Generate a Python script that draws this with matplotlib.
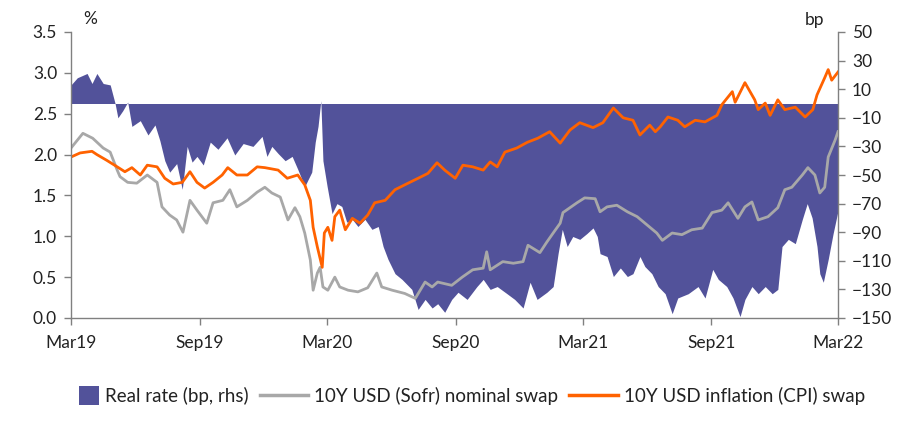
import matplotlib
matplotlib.use("Agg")
import matplotlib.pyplot as plt
from matplotlib.patches import Patch, Rectangle
from matplotlib.lines import Line2D
from matplotlib.legend_handler import HandlerPatch
import pandas as pd

plt.rcParams['font.family'] = ['Lato', 'DejaVu Sans']

# 10Y USD (Sofr) nominal swap, %
nom_dates = ["2019-03-01", "2019-03-18", "2019-04-01", "2019-04-16", "2019-04-26", "2019-05-06",
             "2019-05-10", "2019-05-21", "2019-06-03", "2019-06-18", "2019-07-02", "2019-07-09",
             "2019-07-20", "2019-07-30", "2019-08-08", "2019-08-18", "2019-08-28", "2019-09-11",
             "2019-09-20", "2019-10-04", "2019-10-14", "2019-10-24", "2019-11-08", "2019-11-22",
             "2019-12-03", "2019-12-13", "2019-12-25", "2020-01-05", "2020-01-15", "2020-01-22",
             "2020-01-29", "2020-02-06", "2020-02-10", "2020-02-16", "2020-02-20", "2020-02-24",
             "2020-03-02", "2020-03-12", "2020-03-19", "2020-03-31", "2020-04-14", "2020-04-28",
             "2020-05-11", "2020-05-18", "2020-06-02", "2020-06-20", "2020-07-05", "2020-07-19",
             "2020-07-29", "2020-08-06", "2020-08-26", "2020-09-10", "2020-09-25", "2020-10-10",
             "2020-10-15", "2020-10-20", "2020-11-07", "2020-11-22", "2020-12-06", "2020-12-13",
             "2020-12-30", "2021-01-09", "2021-01-18", "2021-01-28", "2021-02-01", "2021-02-11",
             "2021-02-21", "2021-03-04", "2021-03-19", "2021-03-26", "2021-04-05", "2021-04-19",
             "2021-05-04", "2021-05-18", "2021-06-01", "2021-06-15", "2021-06-23", "2021-07-07",
             "2021-07-21", "2021-08-04", "2021-08-19", "2021-09-02", "2021-09-16", "2021-09-25",
             "2021-10-09", "2021-10-19", "2021-10-29", "2021-11-07", "2021-11-21", "2021-12-05",
             "2021-12-15", "2021-12-25", "2022-01-09", "2022-01-17", "2022-01-27", "2022-02-03",
             "2022-02-10", "2022-02-15", "2022-02-25", "2022-03-01"]
nom_vals = [2.08, 2.26, 2.20, 2.08, 2.03, 1.81,
            1.73, 1.66, 1.65, 1.75, 1.66, 1.36,
            1.26, 1.20, 1.05, 1.44, 1.32, 1.16,
            1.41, 1.44, 1.57, 1.36, 1.44, 1.54,
            1.60, 1.53, 1.48, 1.20, 1.35, 1.24,
            1.04, 0.71, 0.34, 0.55, 0.62, 0.38,
            0.34, 0.50, 0.38, 0.34, 0.32, 0.37,
            0.55, 0.38, 0.34, 0.30, 0.24, 0.44,
            0.38, 0.44, 0.40, 0.50, 0.59, 0.61,
            0.81, 0.59, 0.69, 0.67, 0.69, 0.89,
            0.80, 0.93, 1.04, 1.16, 1.29, 1.35,
            1.41, 1.47, 1.46, 1.30, 1.36, 1.38,
            1.30, 1.24, 1.14, 1.04, 0.95, 1.04,
            1.02, 1.08, 1.10, 1.29, 1.32, 1.41,
            1.22, 1.36, 1.42, 1.20, 1.24, 1.35,
            1.57, 1.60, 1.75, 1.84, 1.75, 1.53,
            1.60, 1.97, 2.18, 2.28]

# 10Y USD inflation (CPI) swap, %
inf_dates = ["2019-03-01", "2019-03-14", "2019-03-31", "2019-04-07", "2019-04-21", "2019-05-06",
             "2019-05-17", "2019-05-27", "2019-06-08", "2019-06-18", "2019-07-02", "2019-07-13",
             "2019-07-25", "2019-08-07", "2019-08-18", "2019-08-28", "2019-09-08", "2019-09-20",
             "2019-10-03", "2019-10-11", "2019-10-24", "2019-11-08", "2019-11-22", "2019-12-03",
             "2019-12-22", "2020-01-04", "2020-01-19", "2020-01-29", "2020-02-06", "2020-02-10",
             "2020-02-16", "2020-02-23", "2020-02-26", "2020-03-02", "2020-03-08", "2020-03-12",
             "2020-03-19", "2020-03-27", "2020-04-06", "2020-04-17", "2020-04-28", "2020-05-08",
             "2020-05-23", "2020-06-06", "2020-06-20", "2020-07-09", "2020-07-23", "2020-08-05",
             "2020-08-16", "2020-08-31", "2020-09-11", "2020-09-25", "2020-10-10", "2020-10-20",
             "2020-10-30", "2020-11-10", "2020-11-27", "2020-12-12", "2020-12-27", "2021-01-13",
             "2021-01-28", "2021-02-11", "2021-02-25", "2021-03-16", "2021-03-30", "2021-04-14",
             "2021-04-28", "2021-05-12", "2021-05-22", "2021-06-05", "2021-06-13", "2021-06-20",
             "2021-07-01", "2021-07-15", "2021-07-25", "2021-08-09", "2021-08-23", "2021-09-09",
             "2021-09-16", "2021-10-01", "2021-10-05", "2021-10-19", "2021-11-02", "2021-11-07",
             "2021-11-17", "2021-11-24", "2021-12-05", "2021-12-15", "2021-12-30", "2022-01-13",
             "2022-01-24", "2022-01-30", "2022-02-10", "2022-02-15", "2022-02-20", "2022-03-01"]
inf_vals = [1.97, 2.02, 2.04, 2.00, 1.93, 1.85,
            1.79, 1.84, 1.75, 1.87, 1.85, 1.71,
            1.64, 1.66, 1.79, 1.66, 1.59, 1.66,
            1.75, 1.84, 1.75, 1.75, 1.85, 1.84,
            1.81, 1.71, 1.75, 1.63, 1.44, 1.11,
            0.87, 0.62, 1.04, 1.11, 0.95, 1.24,
            1.32, 1.08, 1.22, 1.16, 1.26, 1.41,
            1.44, 1.57, 1.63, 1.71, 1.77, 1.90,
            1.81, 1.71, 1.87, 1.85, 1.81, 1.91,
            1.85, 2.03, 2.08, 2.15, 2.20, 2.28,
            2.14, 2.30, 2.39, 2.33, 2.39, 2.57,
            2.45, 2.42, 2.24, 2.36, 2.28, 2.34,
            2.46, 2.42, 2.34, 2.42, 2.40, 2.48,
            2.61, 2.77, 2.64, 2.88, 2.67, 2.55,
            2.63, 2.48, 2.67, 2.55, 2.58, 2.46,
            2.55, 2.73, 2.94, 3.04, 2.91, 3.01]

# Real rate, bp (rhs)
real_dates = ["2019-03-01", "2019-03-10", "2019-03-24", "2019-03-31", "2019-04-07", "2019-04-16",
              "2019-04-26", "2019-05-03", "2019-05-07", "2019-05-14", "2019-05-21", "2019-05-27",
              "2019-06-08", "2019-06-19", "2019-06-29", "2019-07-06", "2019-07-13", "2019-07-20",
              "2019-07-30", "2019-08-07", "2019-08-14", "2019-08-21", "2019-08-28", "2019-09-06",
              "2019-09-16", "2019-09-27", "2019-10-10", "2019-10-21", "2019-11-02", "2019-11-16",
              "2019-11-29", "2019-12-06", "2019-12-13", "2019-12-22", "2020-01-01", "2020-01-11",
              "2020-01-19", "2020-01-29", "2020-02-08", "2020-02-13", "2020-02-17", "2020-02-21",
              "2020-02-24", "2020-03-01", "2020-03-08", "2020-03-15", "2020-03-22", "2020-03-29",
              "2020-04-06", "2020-04-14", "2020-04-24", "2020-05-04", "2020-05-13", "2020-05-20",
              "2020-05-27", "2020-06-06", "2020-06-16", "2020-06-30", "2020-07-09", "2020-07-19",
              "2020-07-29", "2020-08-06", "2020-08-16", "2020-08-26", "2020-09-04", "2020-09-17",
              "2020-10-01", "2020-10-10", "2020-10-20", "2020-10-30", "2020-11-13", "2020-11-24",
              "2020-12-06", "2020-12-16", "2020-12-26", "2021-01-09", "2021-01-18", "2021-01-25",
              "2021-01-31", "2021-02-07", "2021-02-15", "2021-02-25", "2021-03-07", "2021-03-16",
              "2021-03-22", "2021-03-26", "2021-04-05", "2021-04-14", "2021-04-24", "2021-05-04",
              "2021-05-12", "2021-05-22", "2021-05-29", "2021-06-08", "2021-06-17", "2021-06-27",
              "2021-07-07", "2021-07-15", "2021-07-30", "2021-08-13", "2021-08-23", "2021-09-03",
              "2021-09-11", "2021-09-23", "2021-10-02", "2021-10-12", "2021-10-19", "2021-10-29",
              "2021-11-07", "2021-11-17", "2021-11-27", "2021-12-05", "2021-12-11", "2021-12-20",
              "2021-12-30", "2022-01-09", "2022-01-16", "2022-01-23", "2022-01-30", "2022-02-03",
              "2022-02-08", "2022-02-15", "2022-02-22", "2022-03-01"]
real_vals = [13, 18, 21, 14, 21, 14,
             13, 0, -10, -5, 1, -16,
             -12, -22, -15, -26, -40, -48,
             -42, -60, -30, -41, -37, -43,
             -27, -32, -24, -36, -28, -30,
             -23, -37, -30, -35, -40, -37,
             -46, -58, -48, -27, -16, 2,
             -40, -58, -77, -70, -72, -83,
             -81, -86, -81, -88, -86, -100,
             -109, -119, -123, -130, -144, -137,
             -143, -140, -146, -137, -132, -137,
             -128, -123, -130, -128, -133, -137,
             -143, -125, -137, -132, -128, -105,
             -88, -100, -93, -95, -91, -87,
             -93, -105, -107, -121, -115, -121,
             -119, -107, -114, -119, -128, -133,
             -147, -136, -133, -128, -136, -116,
             -123, -128, -136, -149, -137, -128,
             -133, -128, -133, -130, -100, -95,
             -98, -81, -70, -80, -100, -119,
             -125, -109, -91, -75]

tick_dates = ["2019-03-01", "2019-09-01", "2020-03-01", "2020-09-01", "2021-03-01", "2021-09-01", "2022-03-01"]
tick_labels = ["Mar19", "Sep19", "Mar20", "Sep20", "Mar21", "Sep21", "Mar22"]

purple = "#52529a"
orange = "#ff6200"
grey = "#a8a8a8"
axis_col = "#808080"
text_col = "#222222"


class SquareHandler(HandlerPatch):
    # small square right-aligned in the handle box
    def create_artists(self, legend, orig_handle, xdescent, ydescent, width, height, fontsize, trans):
        s = height * 1.5
        p = Rectangle((width - s - xdescent, -ydescent + (height - s) / 2), s, s,
                      facecolor=orig_handle.get_facecolor(), edgecolor='none', transform=trans)
        return [p]


fig = plt.figure(figsize=(9.06, 4.30), dpi=100)
ax = fig.add_axes([71/906, 1-318/430, (838-71)/906, (318-32)/430])
ax2 = ax.twinx()

rd = pd.to_datetime(real_dates)
ax2.fill_between(rd, 0, real_vals, color=purple, linewidth=0)
ax2.set_ylim(-150, 50)
ax2.set_yticks(range(-150, 51, 20))

ax.plot(pd.to_datetime(nom_dates), nom_vals, color=grey, lw=2.0)
ax.plot(pd.to_datetime(inf_dates), inf_vals, color=orange, lw=2.0)
ax.set_ylim(0, 3.5)
ax.set_yticks([i * 0.5 for i in range(8)])
ax.yaxis.set_major_formatter(matplotlib.ticker.FormatStrFormatter('%.1f'))
ax.set_zorder(ax2.get_zorder() + 1)
ax.patch.set_visible(False)

ax.set_xlim(pd.Timestamp("2019-03-01"), pd.Timestamp("2022-03-01"))
ax.set_xticks(pd.to_datetime(tick_dates))
ax.set_xticklabels(tick_labels)

for a in (ax, ax2):
    a.spines['top'].set_visible(False)
    for s in ('left', 'right', 'bottom'):
        a.spines[s].set_color(axis_col)
        a.spines[s].set_linewidth(1.0)
    a.tick_params(colors=axis_col, labelcolor=text_col, labelsize=12.5, length=5, width=1)
ax.spines['right'].set_visible(False)
ax2.spines['left'].set_visible(False)
ax2.spines['bottom'].set_visible(False)
ax.tick_params(axis='x', pad=7)
ax.tick_params(axis='y', pad=5)
ax2.tick_params(axis='y', pad=5)

fig.text(90/906, 1-19/430, "%", fontsize=12.5, color=text_col, ha='center', va='center')
fig.text(815/906, 1-20/430, "bp", fontsize=12.5, color=text_col, ha='center', va='center')

handles = [Patch(facecolor=purple, edgecolor='none'),
           Line2D([0], [0], color=grey, lw=2.5),
           Line2D([0], [0], color=orange, lw=2.5)]
labels = ["Real rate (bp, rhs)", "10Y USD (Sofr) nominal swap", "10Y USD inflation (CPI) swap"]
fig.legend(handles, labels, loc='center', bbox_to_anchor=(0.505, 1-396/430), ncol=3,
           frameon=False, fontsize=13.5, handlelength=2.6, handletextpad=0.3, columnspacing=0.6,
           labelcolor=text_col, handler_map={Patch: SquareHandler()})

fig.savefig("out.png", dpi=100)
